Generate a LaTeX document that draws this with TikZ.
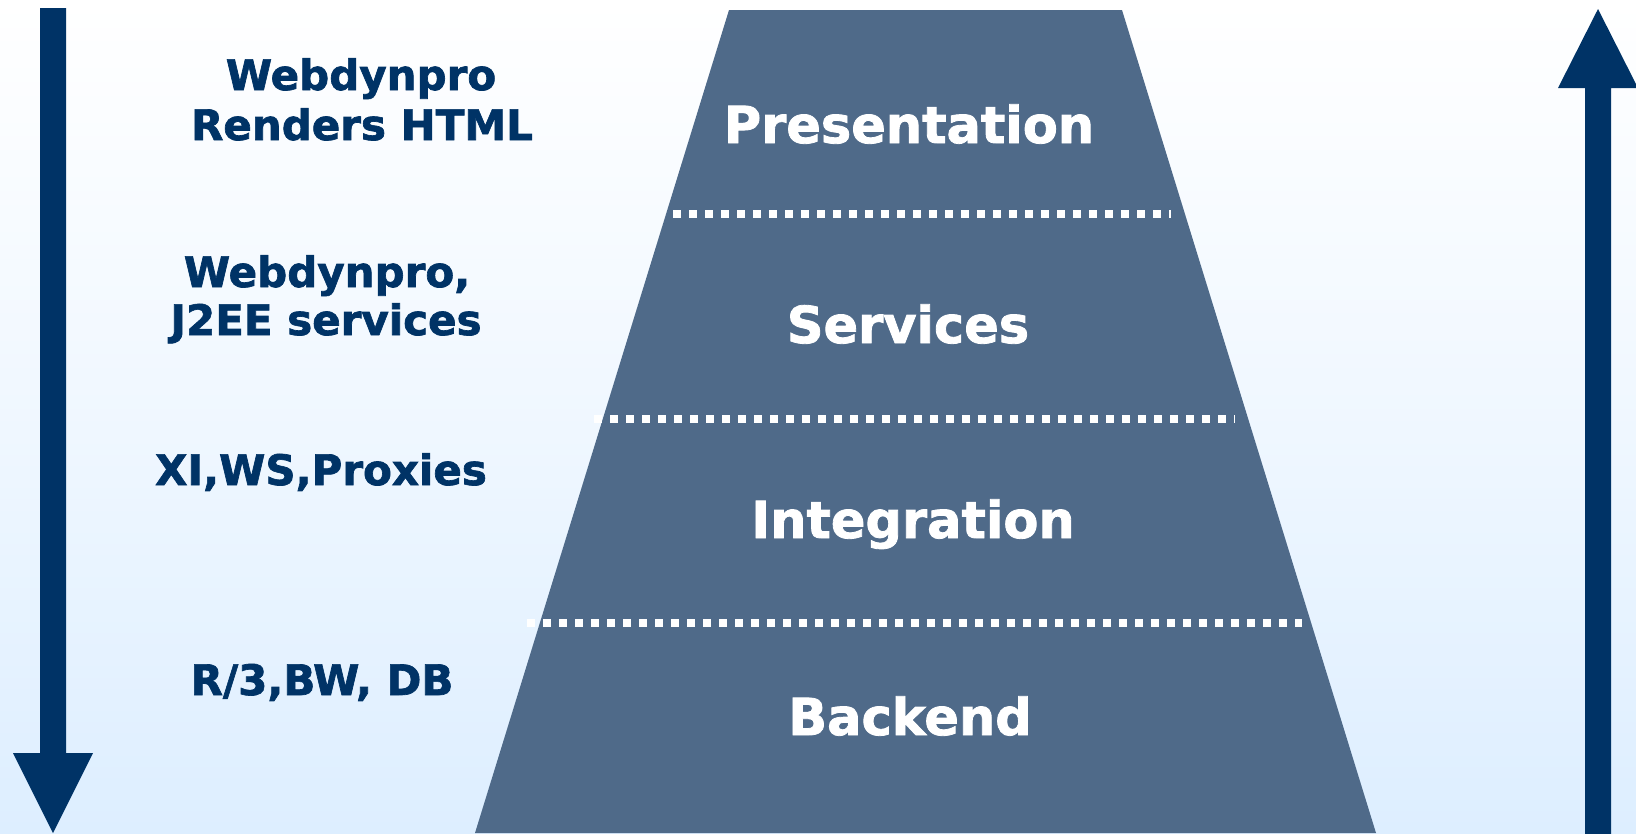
\documentclass[tikz,border=0pt]{standalone}
\usepackage{fontspec}
\setmainfont{DejaVu Sans}
\newfontfamily\heavyfont[FakeBold=1.6]{DejaVu Sans Bold}
\definecolor{navy}{HTML}{003366}
\definecolor{layer}{HTML}{4F6A89}
\definecolor{bgblue}{HTML}{DDEEFF}
\tikzset{
  sidelabel/.style={text=navy, inner sep=0pt, anchor=base, font=\heavyfont\fontsize{42}{50}\selectfont},
  layerlabel/.style={text=white, inner sep=0pt, anchor=base, font=\heavyfont\fontsize{51}{58}\selectfont},
  divider/.style={white, line width=7.5pt, dash pattern=on 7.5pt off 8.5pt},
  bigarrow/.style={fill=navy, draw=none}
}
\begin{document}
\begin{tikzpicture}[x=1pt,y=-1pt]
\useasboundingbox (0,0) rectangle (1636,833);
% background gradient
\shade[top color=white, bottom color=bgblue, middle color=white!55!bgblue] (0,0) rectangle (1636,833);
% trapezoid stack
\fill[layer] (729,10) -- (1122,10) -- (1376,833) -- (475,833) -- cycle;
% dotted dividers
\coordinate (d1a) at (673,214); \coordinate (d1b) at (1171,214);
\coordinate (d2a) at (594,419); \coordinate (d2b) at (1235,419);
\coordinate (d3a) at (527,623); \coordinate (d3b) at (1302,623);
\draw[divider] (d1a) -- (d1b);
\draw[divider] (d2a) -- (d2b);
\draw[divider] (d3a) -- (d3b);
% left downward arrow
\fill[bigarrow] (40,8) -- (66,8) -- (66,753) -- (93,753) -- (53,833) -- (13,753) -- (40,753) -- cycle;
% right upward arrow
\fill[bigarrow] (1585,840) -- (1585,88) -- (1558,88) -- (1598,9) -- (1638,88) -- (1611,88) -- (1611,840) -- cycle;
% layer labels
\node[layerlabel] (pres) at (909,143) {Presentation};
\node[layerlabel] (serv) at (908,343) {Services};
\node[layerlabel] (integ) at (913,538) {Integration};
\node[layerlabel] (back) at (910,735) {Backend};
% side labels
\node[sidelabel] (wdA) at (361,90) {Webdynpro};
\node[sidelabel] (wdB) at (362,140) {Renders HTML};
\node[sidelabel] (jA) at (327,287) {Webdynpro,};
\node[sidelabel] (jB) at (326,335) {J2EE services};
\node[sidelabel] (xi) at (321,485) {XI,WS,Proxies};
\node[sidelabel] (r3) at (322,695) {R/3,BW, DB};
\end{tikzpicture}
\end{document}
